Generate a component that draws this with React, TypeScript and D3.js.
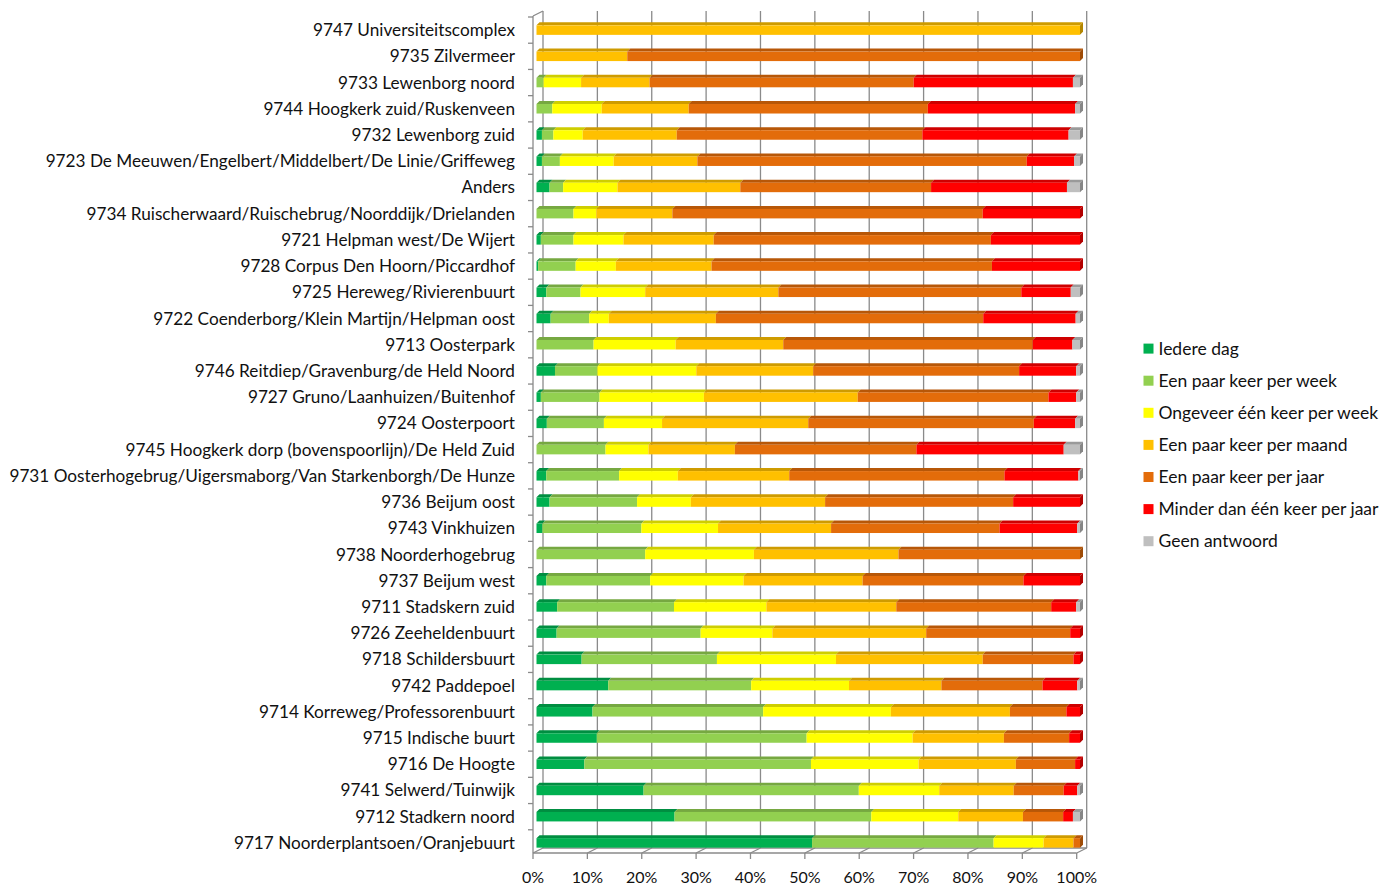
import React from 'react';
import * as d3 from 'd3';

const categories = [
  '9747 Universiteitscomplex',
  '9735 Zilvermeer',
  '9733 Lewenborg noord',
  '9744 Hoogkerk zuid/Ruskenveen',
  '9732 Lewenborg zuid',
  '9723 De Meeuwen/Engelbert/Middelbert/De Linie/Griffeweg',
  'Anders',
  '9734 Ruischerwaard/Ruischebrug/Noorddijk/Drielanden',
  '9721 Helpman west/De Wijert',
  '9728 Corpus Den Hoorn/Piccardhof',
  '9725 Hereweg/Rivierenbuurt',
  '9722 Coenderborg/Klein Martijn/Helpman oost',
  '9713 Oosterpark',
  '9746 Reitdiep/Gravenburg/de Held Noord',
  '9727 Gruno/Laanhuizen/Buitenhof',
  '9724 Oosterpoort',
  '9745 Hoogkerk dorp (bovenspoorlijn)/De Held Zuid',
  '9731 Oosterhogebrug/Uigersmaborg/Van Starkenborgh/De Hunze',
  '9736 Beijum oost',
  '9743 Vinkhuizen',
  '9738 Noorderhogebrug',
  '9737 Beijum west',
  '9711 Stadskern zuid',
  '9726 Zeeheldenbuurt',
  '9718 Schildersbuurt',
  '9742 Paddepoel',
  '9714 Korreweg/Professorenbuurt',
  '9715 Indische buurt',
  '9716 De Hoogte',
  '9741 Selwerd/Tuinwijk',
  '9712 Stadkern noord',
  '9717 Noorderplantsoen/Oranjebuurt',
];

const seriesNames = [
  'Iedere dag',
  'Een paar keer per week',
  'Ongeveer één keer per week',
  'Een paar keer per maand',
  'Een paar keer per jaar',
  'Minder dan één keer per jaar',
  'Geen antwoord',
];

const seriesColors = ['#00B050', '#92D050', '#FFFF00', '#FFC000', '#E36C0A', '#FF0000', '#BFBFBF'];

// percentages per category, same order as categories
const iedereDag = [0, 0, 0, 0, 1.0, 1.0, 2.4, 0, 0.8, 0.3, 1.8, 2.6, 0, 3.4, 0.8, 1.9, 0, 1.8, 2.4, 1.1, 0, 1.8, 3.8, 3.7, 8.3, 13.2, 10.3, 11.1, 8.8, 19.7, 25.4, 50.7];
const paarPerWeek = [0, 0, 1.3, 2.9, 2.1, 3.3, 2.5, 6.8, 6.0, 6.9, 6.3, 7.1, 10.5, 7.8, 10.8, 10.5, 12.7, 13.4, 16.1, 18.2, 20.0, 19.1, 21.5, 26.5, 24.9, 26.3, 31.4, 38.6, 41.7, 39.6, 36.2, 33.4];
const eenPerWeek = [0, 0, 6.9, 9.1, 5.4, 9.9, 10.0, 4.2, 9.2, 7.4, 11.9, 3.6, 15.1, 18.2, 19.2, 10.7, 7.9, 10.8, 9.9, 14.1, 20.0, 17.2, 17.0, 13.2, 21.9, 18.0, 23.5, 19.5, 19.8, 14.8, 16.0, 9.2];
const paarPerMaand = [100, 16.7, 12.6, 16.0, 17.3, 15.4, 22.6, 14.0, 16.6, 17.6, 24.5, 19.7, 19.8, 21.5, 28.3, 26.9, 15.9, 20.5, 24.7, 20.8, 26.6, 21.9, 23.9, 28.3, 27.0, 17.0, 21.9, 16.8, 17.9, 13.7, 11.9, 5.5];
const paarPerJaar = [0, 83.3, 48.6, 44.0, 45.2, 60.6, 35.1, 57.1, 51.0, 51.6, 44.7, 49.2, 45.9, 37.9, 35.1, 41.5, 33.4, 39.6, 34.6, 31.0, 33.4, 29.6, 28.5, 26.5, 16.7, 18.6, 10.4, 12.0, 10.9, 9.2, 7.4, 1.2];
const minderDanJaar = [0, 0, 29.3, 27.1, 26.9, 8.7, 25.0, 17.9, 16.4, 16.2, 9.1, 17.0, 7.3, 10.5, 5.1, 7.6, 27.1, 13.6, 12.3, 14.3, 0, 10.4, 4.6, 1.8, 1.2, 6.4, 2.5, 2.0, 0.9, 2.5, 1.8, 0];
const geenAntwoord = [0, 0, 1.3, 0.9, 2.1, 1.1, 2.4, 0, 0, 0, 1.7, 0.8, 1.4, 0.7, 0.7, 0.9, 3.0, 0.3, 0, 0.5, 0, 0, 0.7, 0, 0, 0.5, 0, 0, 0, 0.5, 1.3, 0];

const xTicks = [0, 0.1, 0.2, 0.3, 0.4, 0.5, 0.6, 0.7, 0.8, 0.9, 1];

const FONT = 'Lato, "Open Sans", sans-serif';
const W = 1396;
const H = 886;

// 3D box geometry
const frontLeft = 533;
const backOffX = 10;
const backOffY = -5;
const floorY = 853;
const topY = 11;
const depth = 3;

export default function App() {
  const seriesData = [iedereDag, paarPerWeek, eenPerWeek, paarPerMaand, paarPerJaar, minderDanJaar, geenAntwoord];
  const rows = categories.map((c, i) => {
    const r: any = { cat: c };
    seriesNames.forEach((s, j) => (r[s] = seriesData[j][i]));
    return r;
  });

  const stacked = d3.stack<any>().keys(seriesNames).offset(d3.stackOffsetExpand)(rows);

  // bar (front face) scale, floor front scale, back wall scale
  const x = d3.scaleLinear().domain([0, 1]).range([536.5, 1080]);
  const xFront = d3.scaleLinear().domain([0, 1]).range([frontLeft, 1076.7]);
  const xBack = (v: number) => xFront(v) + backOffX;

  const y = d3.scaleBand<string>().domain(categories).range([17, 856]).padding(0);
  const barH = 9.5;

  const lastIdx = rows.map((_, i) => {
    let k = 0;
    stacked.forEach((s, j) => {
      if (s[i][1] - s[i][0] > 0) k = j;
    });
    return k;
  });

  return (
    <svg width={W} height={H} style={{ position: 'absolute', left: 0, top: 0, background: '#fff' }}>
      {/* back wall gridlines */}
      <g stroke="#8a8a8a" strokeWidth={1.3} fill="none">
        {xTicks.map(t => (
          <line key={'g' + t} x1={xBack(t)} x2={xBack(t)} y1={topY} y2={floorY + backOffY} />
        ))}
        {xTicks.map(t => (
          <line key={'d' + t} x1={xBack(t)} x2={xFront(t)} y1={floorY + backOffY} y2={floorY} />
        ))}
        <line x1={xBack(0)} x2={xBack(1)} y1={floorY + backOffY} y2={floorY + backOffY} />
        <line x1={xFront(0)} x2={xFront(1)} y1={floorY} y2={floorY} />
        <line x1={frontLeft} x2={frontLeft} y1={topY - backOffY} y2={floorY} />
        <line x1={frontLeft} x2={xBack(0)} y1={topY - backOffY} y2={topY} />
        {xTicks.map(t => (
          <line key={'t' + t} x1={xFront(t)} x2={xFront(t)} y1={floorY} y2={floorY + 6} />
        ))}
        {categories.map((c, i) => {
          const yy = (y(c) as number);
          return <line key={'yt' + i} x1={frontLeft - 5} x2={frontLeft} y1={yy} y2={yy} />;
        })}
      </g>

      {/* bars */}
      {stacked.map((s, j) => {
        const col = seriesColors[j];
        const dark = d3.color(col)!.darker(0.6).formatHex();
        const darker = d3.color(col)!.darker(1.0).formatHex();
        return (
          <g key={s.key}>
            {s.map((d, i) => {
              const x0 = x(d[0]);
              const x1 = x(d[1]);
              if (x1 - x0 <= 0.01) return null;
              const cy = (y(categories[i]) as number) + y.bandwidth() / 2;
              const yt = cy - barH / 2;
              const yb = cy + barH / 2;
              return (
                <g key={i}>
                  <polygon
                    points={`${x0},${yt} ${x0 + depth},${yt - depth} ${x1 + depth},${yt - depth} ${x1},${yt}`}
                    fill={dark}
                  />
                  <rect x={x0} y={yt} width={x1 - x0} height={barH} fill={col} />
                  {lastIdx[i] === j && (
                    <polygon
                      points={`${x1},${yt} ${x1 + depth},${yt - depth} ${x1 + depth},${yb - depth} ${x1},${yb}`}
                      fill={darker}
                    />
                  )}
                </g>
              );
            })}
          </g>
        );
      })}

      {/* category labels */}
      <g fontFamily={FONT} fontSize={17.2} fill="#111" textAnchor="end">
        {categories.map(c => (
          <text key={c} x={515} y={(y(c) as number) + y.bandwidth() / 2} dy="0.35em">
            {c}
          </text>
        ))}
      </g>

      {/* x axis labels */}
      <g fontFamily={FONT} fontSize={16} fill="#111" textAnchor="middle">
        {xTicks.map(t => (
          <text key={t} x={xFront(t)} y={877} dy="0.35em">
            {d3.format('.0%')(t)}
          </text>
        ))}
      </g>

      {/* legend */}
      <g fontFamily={FONT} fontSize={17.5} fill="#111">
        {seriesNames.map((s, j) => (
          <g key={s} transform={`translate(1143.5, ${348.6 + j * 32.1})`}>
            <rect x={0} y={-5} width={10} height={10} fill={seriesColors[j]} />
            <text x={15} y={0} dy="0.35em">
              {s}
            </text>
          </g>
        ))}
      </g>
    </svg>
  );
}
